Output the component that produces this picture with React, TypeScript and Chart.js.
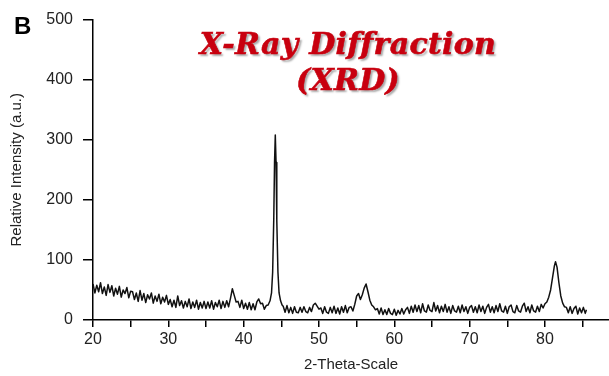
import React, { useEffect, useRef } from "react";
import { Chart, registerables } from "chart.js";

Chart.register(...registerables);

// [2-theta, relative intensity]
const xrdPattern: [number, number][] = [
  [20, 60], [20.25, 45], [20.5, 58], [20.75, 47], [21, 62], [21.25, 44], [21.5, 55], [21.75, 41],
  [22, 59], [22.25, 46], [22.5, 57], [22.75, 40], [23, 53], [23.25, 43], [23.5, 56], [23.75, 38],
  [24, 50], [24.25, 44], [24.5, 54], [24.75, 37], [25, 48],
  [25.25, 47], [25.5, 34], [25.75, 45], [26, 31], [26.25, 49], [26.5, 33], [26.75, 44], [27, 29],
  [27.25, 42], [27.5, 35], [27.75, 45], [28, 28], [28.25, 40], [28.5, 31], [28.75, 43], [29, 27],
  [29.25, 38], [29.5, 30], [29.75, 41], [30, 26],
  [30.25, 34], [30.5, 22], [30.75, 33], [31, 21], [31.25, 40], [31.5, 24], [31.75, 32], [32, 20],
  [32.25, 31], [32.5, 22], [32.75, 35], [33, 19], [33.25, 30], [33.5, 21], [33.75, 33], [34, 18],
  [34.25, 29], [34.5, 20], [34.75, 31], [35, 19],
  [35.25, 30], [35.5, 20], [35.75, 32], [36, 18], [36.25, 29], [36.5, 22], [36.75, 33], [37, 19],
  [37.25, 31], [37.5, 21], [37.75, 32], [38, 22],
  [38.25, 36], [38.5, 52], [38.75, 41], [39, 30],
  [39.25, 31], [39.5, 21], [39.75, 33], [40, 19], [40.25, 28], [40.5, 18], [40.75, 29], [41, 17],
  [41.25, 27], [41.5, 17],
  [41.75, 30], [42, 35], [42.25, 27], [42.5, 28], [42.75, 18], [43, 24],
  [43.25, 25], [43.5, 32], [43.7, 45], [43.85, 80], [44, 170], [44.1, 262], [44.2, 308], [44.3, 262],
  [44.4, 165], [44.55, 80], [44.7, 45], [44.9, 32], [45.1, 25],
  [45.25, 23], [45.5, 13], [45.75, 24], [46, 12], [46.25, 21], [46.5, 11], [46.75, 22], [47, 13],
  [47.25, 12], [47.5, 21], [47.75, 13], [48, 22], [48.25, 14], [48.5, 12], [48.75, 21], [49, 14],
  [49.25, 25], [49.5, 28], [49.75, 23], [50, 18],
  [50.25, 20], [50.5, 11], [50.75, 22], [51, 13], [51.25, 11], [51.5, 21], [51.75, 12], [52, 23],
  [52.25, 11], [52.5, 20], [52.75, 10], [53, 22], [53.25, 13], [53.5, 24], [53.75, 12], [54, 21],
  [54.25, 22], [54.5, 15],
  [54.75, 26], [55, 40], [55.25, 44], [55.5, 34], [55.75, 42], [56, 53], [56.25, 60], [56.5, 47],
  [56.75, 33], [57, 25], [57.25, 22], [57.5, 17],
  [57.75, 19], [58, 10], [58.25, 20], [58.5, 9], [58.75, 17], [59, 9], [59.25, 19], [59.5, 11],
  [59.75, 9], [60, 18], [60.25, 8], [60.5, 16], [60.75, 10], [61, 19], [61.25, 10], [61.5, 17],
  [61.75, 21], [62, 11],
  [62.25, 23], [62.5, 13], [62.75, 25], [63, 14], [63.25, 24], [63.5, 12], [63.75, 27], [64, 15],
  [64.25, 13], [64.5, 25], [64.75, 16], [65, 14], [65.25, 29], [65.5, 15], [65.75, 24], [66, 12],
  [66.25, 23], [66.5, 14], [66.75, 26], [67, 13], [67.25, 22], [67.5, 11], [67.75, 24], [68, 15],
  [68.25, 13], [68.5, 23], [68.75, 12], [69, 25], [69.25, 14], [69.5, 22], [69.75, 11], [70, 21],
  [70.25, 24], [70.5, 13], [70.75, 22], [71, 12], [71.25, 25], [71.5, 14], [71.75, 23], [72, 11],
  [72.25, 21], [72.5, 26], [72.75, 13], [73, 22], [73.25, 12], [73.5, 24], [73.75, 14], [74, 27],
  [74.25, 15], [74.5, 13], [74.75, 23], [75, 11], [75.25, 22], [75.5, 25], [75.75, 14], [76, 12],
  [76.25, 24], [76.5, 15], [76.75, 13], [77, 23], [77.25, 28], [77.5, 14], [77.75, 22], [78, 12],
  [78.25, 25], [78.5, 15], [78.75, 13], [79, 23], [79.25, 14], [79.5, 26], [79.75, 20], [80, 27],
  [80.25, 30], [80.5, 38], [80.75, 50], [81, 70], [81.25, 90], [81.4, 97], [81.6, 88], [81.85, 62],
  [82.1, 40], [82.35, 28], [82.6, 22],
  [82.85, 21], [83.1, 12], [83.35, 22], [83.6, 11], [83.85, 19], [84.1, 23], [84.35, 10], [84.6, 20],
  [84.85, 12], [85.1, 21], [85.35, 11], [85.5, 17],
];

const xTickStep = 5;
const yTickStep = 100;
const xMin = 20;
const xMax = 88.5;
const yMin = 0;
const yMax = 500;

export default function App() {
  const ref = useRef<HTMLCanvasElement | null>(null);

  useEffect(() => {
    if (!ref.current) return;
    const chart = new Chart(ref.current, {
      type: "line",
      data: {
        datasets: [
          {
            data: xrdPattern.map(([x, y]) => ({ x, y })),
            borderColor: "#111",
            borderWidth: 1.5,
            borderJoinStyle: "round",
            pointRadius: 0,
            tension: 0,
            fill: false,
          },
        ],
      },
      options: {
        animation: false,
        responsive: false,
        layout: { padding: { top: 17, right: 0, left: 0, bottom: 0 } },
        plugins: { legend: { display: false }, tooltip: { enabled: false } },
        scales: {
          x: {
            type: "linear",
            min: xMin,
            max: xMax,
            afterFit: (s: any) => {
              s.height = 56;
            },
            border: { display: true, color: "#000", width: 1.5 },
            grid: { drawOnChartArea: false, drawTicks: true, tickLength: 7, color: "#000", lineWidth: 1.5 },
            ticks: {
              stepSize: xTickStep,
              includeBounds: false,
              maxRotation: 0,
              autoSkip: false,
              padding: 3,
              color: "#222",
              font: { family: "Liberation Sans, Arial", size: 16 },
              callback: (v: any) => (Number(v) % 10 === 0 ? String(v) : ""),
            },
            title: {
              display: true,
              text: "2-Theta-Scale",
              color: "#222",
              font: { family: "Liberation Sans, Arial", size: 15 },
              padding: { top: 0, bottom: 2 },
            },
          },
          y: {
            min: yMin,
            max: yMax,
            afterFit: (s: any) => {
              s.width = 93;
            },
            border: { display: true, color: "#000", width: 1.5 },
            grid: { drawOnChartArea: false, drawTicks: true, tickLength: 10, color: "#000", lineWidth: 1.5 },
            ticks: {
              stepSize: yTickStep,
              padding: 10,
              color: "#222",
              font: { family: "Liberation Sans, Arial", size: 16 },
            },
            title: {
              display: true,
              text: "Relative Intensity (a.u.)",
              color: "#222",
              font: { family: "Liberation Sans, Arial", size: 15 },
              padding: { top: 8, bottom: 0 },
            },
          },
        },
      },
    });
    return () => chart.destroy();
  }, []);

  return (
    <div style={{ position: "fixed", left: 0, top: 0, width: 609, height: 376, background: "#fff" }}>
      <canvas ref={ref} width={609} height={376} style={{ display: "block" }} />
      <div
        style={{
          position: "absolute",
          left: 14,
          top: 12,
          fontFamily: "Liberation Sans, Arial",
          fontWeight: "bold",
          fontSize: 24,
          color: "#000",
          lineHeight: "28px",
        }}
      >
        B
      </div>
      <div
        style={{
          position: "absolute",
          left: 148,
          width: 400,
          top: 26,
          textAlign: "center",
          fontFamily: "DejaVu Serif",
          fontWeight: "bold",
          fontStyle: "italic",
          fontSize: 30,
          letterSpacing: "0.3px",
          lineHeight: "36px",
          color: "#c8000f",
          WebkitTextStroke: "0.6px #c8000f",
          textShadow: "2px 2px 2px rgba(0,0,0,0.35)",
        }}
      >
        X-Ray Diffraction
        <br />
        (XRD)
      </div>
    </div>
  );
}
